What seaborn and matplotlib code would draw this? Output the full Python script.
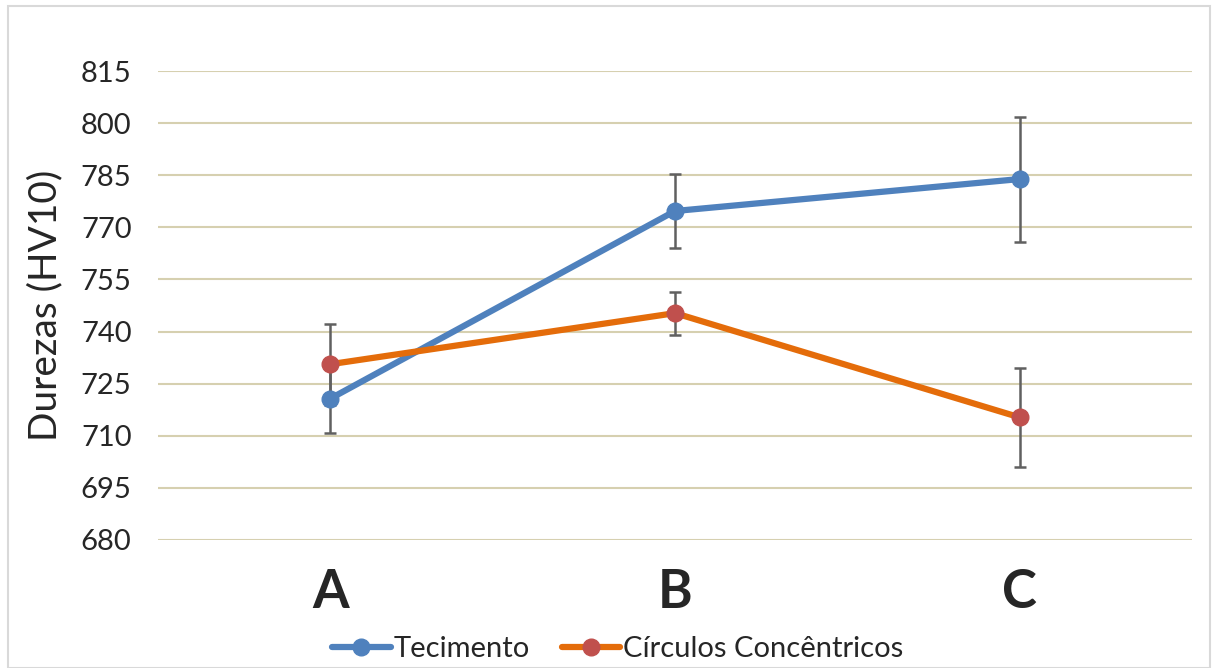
import matplotlib
matplotlib.use('Agg')
import matplotlib.pyplot as plt
import seaborn as sns
import pandas as pd
from matplotlib.patches import Rectangle

# dados
amostras = ['A', 'B', 'C']
tecimento = [720.7, 774.7, 783.9]
tecimento_err = [10.0, 10.6, 18.0]
circulos = [730.6, 745.3, 715.3]
circulos_err = [11.6, 6.2, 14.2]
yticks = [680, 695, 710, 725, 740, 755, 770, 785, 800, 815]

sns.set_style('white')
plt.rcParams['font.family'] = ['Lato', 'DejaVu Sans']

df = pd.DataFrame({
    'Amostra': amostras * 2,
    'Dureza': tecimento + circulos,
    'Série': ['Tecimento'] * 3 + ['Círculos Concêntricos'] * 3,
})

fig = plt.figure(figsize=(12.16, 6.68), dpi=100)
ax = fig.add_axes([158 / 1216, 1 - 540 / 668, (1192 - 158) / 1216, (540 - 71) / 668])

# borda do gráfico
fig.patches.append(Rectangle((8 / 1216, 0), 1202 / 1216, 1 - 6 / 668, transform=fig.transFigure,
                             fill=False, edgecolor='#d9d9d9', linewidth=1.5))

# barras de erro
for vals, errs in [(tecimento, tecimento_err), (circulos, circulos_err)]:
    ax.errorbar(range(3), vals, yerr=errs, fmt='none', ecolor='#606060',
                elinewidth=1.8, capsize=4.5, capthick=1.8, zorder=2)

sns.lineplot(data=df, x='Amostra', y='Dureza', hue='Série', ax=ax,
             palette=['#4F81BD', '#E46C0A'], linewidth=4.5, zorder=3, legend=False)

ax.plot(range(3), tecimento, 'o', color='#4F81BD', markersize=12, zorder=4)
ax.plot(range(3), circulos, 'o', color='#C0504D', markersize=12, zorder=4)

ax.set_ylim(680, 815)
ax.set_xlim(-0.5, 2.5)
ax.set_yticks(yticks)
ax.yaxis.grid(True, color='#d6d0b0', linewidth=1.5)
ax.set_axisbelow(True)
for s in ax.spines.values():
    s.set_visible(False)
ax.tick_params(axis='y', labelsize=21, length=0, pad=19)
ax.tick_params(axis='x', labelsize=38, length=0, pad=20)
for t in ax.get_xticklabels():
    t.set_fontweight('bold')
ax.set_xlabel('')
ax.set_ylabel('Durezas (HV10)', fontsize=28)
ax.yaxis.set_label_coords(-(158 - 63) / 1034, 0.5)

# legenda
h1, = ax.plot([], [], '-o', color='#4F81BD', linewidth=4.5, markersize=12, markerfacecolor='#4F81BD')
h2, = ax.plot([], [], '-o', color='#E46C0A', linewidth=4.5, markersize=12, markerfacecolor='#C0504D',
              markeredgecolor='#C0504D')
fig.legend([h1, h2], ['Tecimento', 'Círculos Concêntricos'], loc='center',
           bbox_to_anchor=(0.508, 1 - 649 / 668), ncol=2, frameon=False, fontsize=21,
           handlelength=2.0, handletextpad=0.1, columnspacing=1.1)

fig.savefig('out.png', dpi=100)
